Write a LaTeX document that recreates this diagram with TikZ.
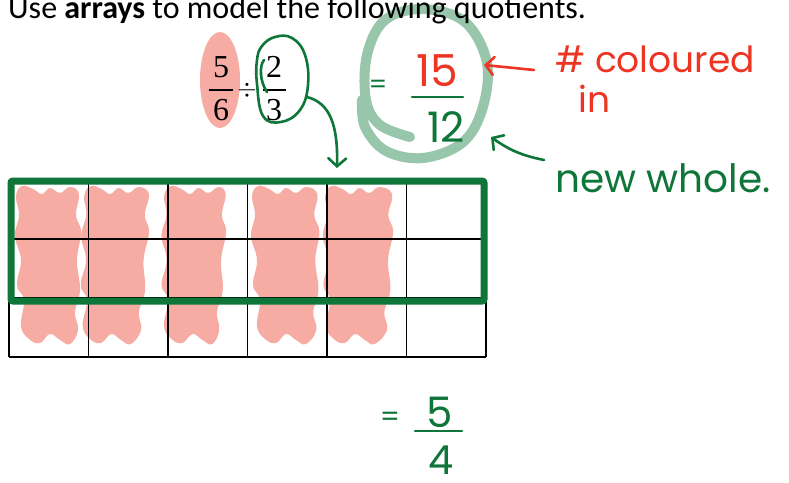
\documentclass[tikz,border=0pt]{standalone}
\usepackage{fontspec}
\setmainfont{Carlito}
\newfontfamily\serifnum{Liberation Serif}
\newfontfamily\hand{Poppins}
\usetikzlibrary{arrows.meta}
\definecolor{pinkfill}{HTML}{F6ABA3}
\definecolor{dkgreen}{HTML}{0E7638}
\definecolor{ltgreen}{HTML}{97C6AB}
\definecolor{redink}{HTML}{EE3524}
\begin{document}
\begin{tikzpicture}[x=1pt,y=-1pt,
  gridline/.style={black,line width=1.7pt},
  frac/.style={inner sep=0pt,anchor=base,font=\serifnum\fontsize{32}{36}\selectfont},
  handred/.style={inner sep=0pt,text=redink,font=\hand\fontsize{36}{40}\selectfont},
  handgreen/.style={inner sep=0pt,text=dkgreen,font=\hand\fontsize{39}{43}\selectfont},
  ink/.style={line width=2.6pt,line cap=round,line join=round},
  barb/.style={-{Straight Barb[length=8pt,width=18pt,line cap=round]}}]
\useasboundingbox (0,0) rectangle (789,482);
\fill[white] (0,0) rectangle (789,482);

% light green circle around 15/12
\draw[ltgreen,line width=10pt,line cap=round] plot[smooth,tension=0.6] coordinates {
  (410,137) (380,125) (366,100) (367,55) (385,20) (423,9) (465,22) (487,63)
  (482,110) (462,143) (423,158) (386,151) (365,127) (362,100)};

% title
\node[anchor=base west,inner sep=0pt] (title) at (8,18)
  {\fontsize{32}{36}\selectfont Use \textbf{arrays} to model the following quotients.};

% pink blob behind 5/6
\fill[pinkfill] (220,80) ellipse[x radius=20pt,y radius=48pt];

% pink shading of the array columns
\foreach \dx/\sl/\sc in {0/0/1,78/0.05/1.02,156/0.04/0.98,236/0.0/1.03,315/0.03/1.05}{
  \begin{scope}[shift={(\dx,0)},xslant=\sl]
  \fill[pinkfill] plot[smooth cycle,tension=0.7] coordinates {
    (16,196) (22,186) (33,189) (42,194) (50,188) (60,193) (70,187) (79*\sc,194)
    (76*\sc,215) (81*\sc,232) (77*\sc,260) (80*\sc,290) (75*\sc,312) (78*\sc,330) (70,344) (60,340)
    (50,334) (40,343) (29,339) (21,326) (24,300) (17,285) (21,260) (15,236) (19,215)};
  \end{scope}}

% grid 3 x 6
\foreach \i in {0,...,6}
  \draw[gridline] (9+79.5*\i,180) -- (9+79.5*\i,357);
\foreach \y in {180,239,298,357}
  \draw[gridline] (9,\y) -- (486,\y);

% new whole rectangle
\draw[dkgreen,line width=7pt,rounded corners=2pt] (11,181) rectangle (484,301);

% 5/6 ÷ 2/3
\node[frac] (n5) at (221,77) {5};
\node[frac] (n6) at (221,120) {6};
\draw[line width=2pt] (209,90) -- (233,90);
\node[inner sep=0pt,font=\fontsize{24}{28}\selectfont] (div) at (247,90) {$\div$};
\node[frac] (n2) at (274,77) {2};
\node[frac] (n3) at (274,120) {3};
\draw[line width=2pt] (263,90) -- (286,90);

% green loop round 2/3 and arrow to array
\draw[dkgreen,ink] plot[smooth cycle,tension=0.7] coordinates {
  (262,46) (275,37) (292,38) (305,55) (308,85) (300,110) (281,122) (263,116) (257,84) (257,60)};
\draw[dkgreen,ink] (264,60) .. controls (259,66) and (260,82) .. (267,92);
\coordinate (loopR) at (307,97);
\coordinate (arrayTop) at (337,168);
\draw[dkgreen,ink,barb] (loopR) .. controls (330,103) and (338,125) .. (arrayTop);

% = 15/12
\node[inner sep=0pt,text=dkgreen,font=\hand\fontsize{26}{30}\selectfont] (eq1) at (378,87) {=};
\node[inner sep=0pt,anchor=base,text=redink,font=\hand\fontsize{44}{48}\selectfont] (n15) at (437,86) {15};
\draw[dkgreen,ink] (412,97) -- (463,97);
\node[inner sep=0pt,anchor=base,text=dkgreen,font=\hand\fontsize{42}{46}\selectfont] (n12) at (446,142) {12};

% labels with arrows
\node[handred,anchor=base west] (col) at (555,72) {\# coloured};
\node[handred,anchor=base west] (inlbl) at (578,112) {in};
\coordinate (redTail) at (534,70);
\coordinate (redTip) at (484,65);
\draw[redink,ink,barb] (redTail) -- (redTip);

\node[handgreen,anchor=base west] (whole) at (555,192) {new whole.};
\coordinate (grTail) at (544,160);
\coordinate (grTip) at (491,137);
\draw[dkgreen,ink,barb] (grTail) to[bend left=12] (grTip);

% = 5/4
\node[inner sep=0pt,text=dkgreen,font=\hand\fontsize{28}{32}\selectfont] (eq2) at (390,419) {=};
\node[inner sep=0pt,anchor=base,text=dkgreen,font=\hand\fontsize{42}{46}\selectfont] (r5) at (440,427) {5};
\draw[dkgreen,ink] (415,431) -- (462,431);
\node[inner sep=0pt,anchor=base,text=dkgreen,font=\hand\fontsize{40}{44}\selectfont] (r4) at (441,474) {4};
\end{tikzpicture}
\end{document}
